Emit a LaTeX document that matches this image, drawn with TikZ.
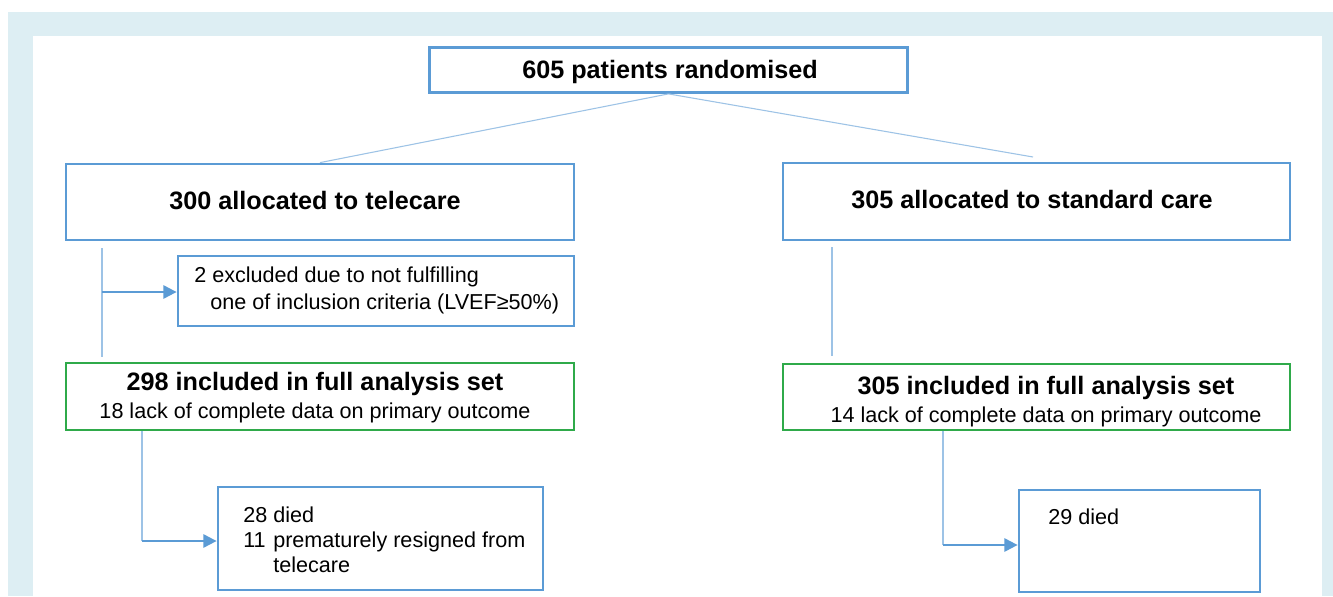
\documentclass[tikz,border=0pt]{standalone}
\usepackage{fontspec}
\setmainfont{Liberation Sans}
\usetikzlibrary{arrows.meta}
\definecolor{frameblue}{HTML}{DDEEF3}
\definecolor{boxblue}{HTML}{5B9BD5}
\definecolor{boxgreen}{HTML}{2FAA4A}
\definecolor{linkblue}{HTML}{9DC3E6}
\begin{document}
\begin{tikzpicture}[x=0.75pt,y=-0.75pt,
 bluebox/.style={draw=boxblue,line width=2.1pt,fill=white,inner sep=0pt},
 greenbox/.style={draw=boxgreen,line width=2.1pt,fill=white,inner sep=0pt},
 bigtxt/.style={font=\fontsize{18.9}{22}\selectfont\bfseries,inner sep=0pt,text=black},
 smalltxt/.style={font=\fontsize{16.2}{19.1}\selectfont,inner sep=0pt,text=black},
 link/.style={draw=linkblue,line width=0.8pt},
 arr/.style={draw=boxblue,line width=1.6pt,-{Triangle[length=10pt,width=10pt]}}]

\useasboundingbox (0,0) rectangle (1333,596);
\fill[white] (0,0) rectangle (1333,596);
\fill[frameblue] (8,12) rectangle (1333,596);
\fill[white] (33,36) rectangle (1322,596);

% boxes
\node[bluebox,minimum width=358.5pt,minimum height=33.75pt] (top) at (668.5,70) {};
\node[bluebox,minimum width=381pt,minimum height=57pt] (tele) at (320,202) {};
\node[bluebox,minimum width=380.25pt,minimum height=57.75pt] (std) at (1036.5,201.5) {};
\node[bluebox,minimum width=297pt,minimum height=52.5pt] (excl) at (376,291) {};
\node[greenbox,minimum width=381pt,minimum height=50.25pt] (g1) at (320,396.5) {};
\node[greenbox,minimum width=380.25pt,minimum height=49.5pt] (g2) at (1036.5,397) {};
\node[bluebox,minimum width=243.75pt,minimum height=77.25pt] (d1) at (380.5,538.5) {};
\node[bluebox,minimum width=180.75pt,minimum height=76.5pt] (d2) at (1139.5,541) {};

% connectors
\coordinate (rEnd) at (1033,157);
\draw[link] (top.south) -- (tele.north);
\draw[link] (top.south) -- (rEnd);
\coordinate (lv1) at (102,248);
\coordinate (lv2) at (102,357);
\draw[link] (lv1) -- (lv2);
\coordinate (la) at (102,292);
\draw[arr] (la) -- (la -| excl.west);
\coordinate (rv1) at (832,247);
\coordinate (rv2) at (832,356);
\draw[link] (rv1) -- (rv2);
\coordinate (lb) at (142,541);
\draw[link] (g1.south -| lb) -- (lb);
\draw[arr] (lb) -- (lb -| d1.west);
\coordinate (rb) at (943,545);
\draw[link] (g2.south -| rb) -- (rb);
\draw[arr] (rb) -- (rb -| d2.west);

% texts
\node[bigtxt,anchor=base] (ttop) at (670,78) {605 patients randomised};
\node[bigtxt,anchor=base] (ttele) at (315,209) {300 allocated to telecare};
\node[bigtxt,anchor=base] (tstd) at (1032,208) {305 allocated to standard care};
\node[smalltxt,anchor=base west] (texa) at (194,282) {2 excluded due to not fulfilling};
\node[smalltxt,anchor=base west] (texb) at (210,309) {one of inclusion criteria (LVEF≥50\%)};
\node[bigtxt,anchor=base] (tga) at (315,390) {298 included in full analysis set};
\node[smalltxt,anchor=base] (tgb) at (315,418) {18 lack of complete data on primary outcome};
\node[bigtxt,anchor=base] (tgc) at (1046,394) {305 included in full analysis set};
\node[smalltxt,anchor=base] (tgd) at (1046,422) {14 lack of complete data on primary outcome};
\node[smalltxt,anchor=base west] (tda) at (243,522) {\begin{tabular}[t]{@{}l@{\hspace{4.5pt}}l@{}}28 & died\\ 11 & prematurely resigned from\\ & telecare\end{tabular}};
\node[smalltxt,anchor=base west] (tdb) at (1048,524) {29 died};
\end{tikzpicture}
\end{document}
